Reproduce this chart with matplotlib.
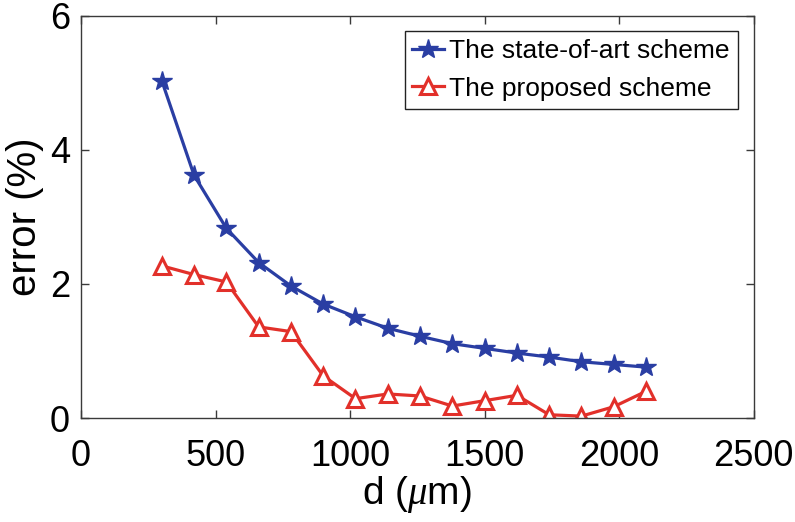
import matplotlib.pyplot as plt

# distance d (um) and error (%)
d_um = [300, 420, 540, 660, 780, 900, 1020, 1140, 1260, 1380, 1500, 1620, 1740, 1860, 1980, 2100]
err_state_of_art = [5.03, 3.62, 2.83, 2.32, 1.97, 1.70, 1.51, 1.34, 1.22, 1.11, 1.04, 0.97, 0.91, 0.84, 0.80, 0.76]
err_proposed = [2.27, 2.14, 2.03, 1.36, 1.29, 0.63, 0.29, 0.36, 0.33, 0.18, 0.26, 0.34, 0.05, 0.03, 0.17, 0.40]

x_ticks = [0, 500, 1000, 1500, 2000, 2500]
y_ticks = [0, 2, 4, 6]

plt.rcParams['font.family'] = ['Liberation Sans', 'DejaVu Sans']
plt.rcParams['mathtext.fontset'] = 'custom'
plt.rcParams['mathtext.it'] = 'Liberation Serif:italic'
plt.rcParams['mathtext.rm'] = 'Liberation Sans'

fig = plt.figure(figsize=(7.95, 5.22), dpi=100)
ax = fig.add_axes([0.102, 0.199, 0.846, 0.771])

ax.plot(d_um, err_state_of_art, color='#2a3ea3', lw=2.3, marker='*', ms=15,
        label='The state-of-art scheme')
ax.plot(d_um, err_proposed, color='#e2302a', lw=2.3, marker='^', ms=11,
        mfc='white', mew=2.2, label='The proposed scheme')

ax.set_xlim(0, 2500)
ax.set_ylim(0, 6)
ax.set_xticks(x_ticks)
ax.set_yticks(y_ticks)
ax.tick_params(direction='in', top=True, right=True, length=6, width=1,
               labelsize=26, color='#3a3a3a')
ax.tick_params(axis='x', pad=15)
ax.tick_params(axis='y', pad=8)
for s in ax.spines.values():
    s.set_color('#3a3a3a')
    s.set_linewidth(1)

ax.set_xlabel(r'd ($\mu$m)', fontsize=28, labelpad=0)
ax.set_ylabel('error (%)', fontsize=29, labelpad=4)

leg = ax.legend(loc='upper right', fontsize=19, handlelength=1.2,
                handletextpad=0.2, borderpad=0.3, labelspacing=0.5,
                borderaxespad=0.6, fancybox=False, framealpha=1)
leg.get_frame().set_edgecolor('#222222')
leg.get_frame().set_linewidth(1)

plt.savefig('out.png', dpi=100)
